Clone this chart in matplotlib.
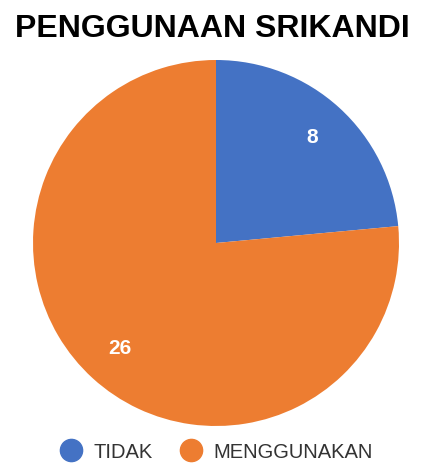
import matplotlib.pyplot as plt
from matplotlib.lines import Line2D

labels = ['TIDAK', 'MENGGUNAKAN']
values = [8, 26]
colors = ['#4472C4', '#ED7D31']

plt.rcParams['font.family'] = ['Liberation Sans', 'DejaVu Sans']

fig = plt.figure(figsize=(4.23, 4.63), dpi=100)
fig.text(212 / 423, 1 - 29 / 463, 'PENGGUNAAN SRIKANDI', ha='center', va='center',
         fontsize=23, fontweight='bold', color='black')

ax = fig.add_axes([33 / 423, 37 / 463, 366 / 423, 366 / 463])
wedges, texts, autotexts = ax.pie(values, colors=colors, startangle=90, counterclock=False,
                                  autopct=lambda p: '%d' % round(p * sum(values) / 100),
                                  pctdistance=0.78, radius=1,
                                  wedgeprops=dict(linewidth=0))
for t in autotexts:
    t.set_color('white')
    t.set_fontsize(15)
    t.set_fontweight('bold')
ax.set_xlim(-1, 1)
ax.set_ylim(-1, 1)
ax.set_aspect('equal')
ax.axis('off')

handles = [Line2D([], [], marker='o', linestyle='none', markersize=16,
                  markerfacecolor=c, markeredgecolor=c) for c in colors]
fig.legend(handles, labels, loc='center', bbox_to_anchor=(216 / 423, 1 - 452 / 463),
           ncol=2, frameon=False, fontsize=14.5, labelcolor='#333333',
           handletextpad=0.5, columnspacing=1.3, handlelength=1.2)

fig.savefig('out.png', dpi=100)
